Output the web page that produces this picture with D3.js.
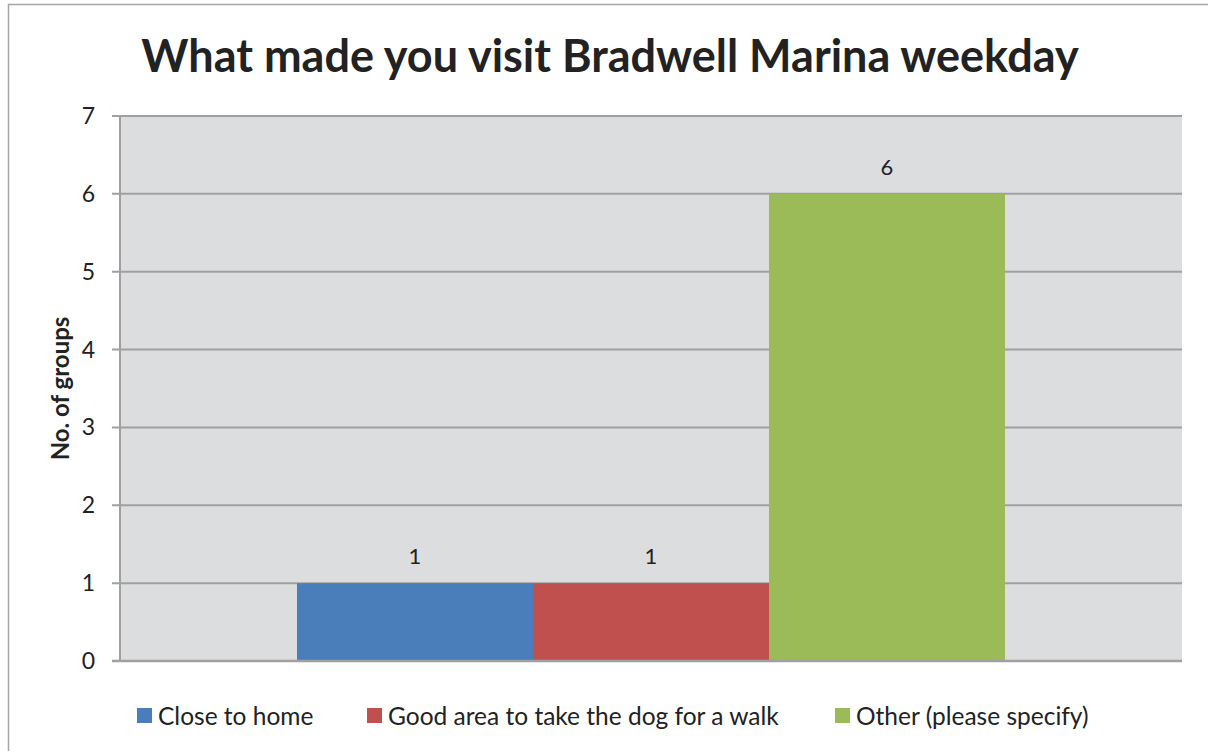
<!DOCTYPE html>
<html>
<head>
<meta charset="utf-8">
<script src="https://cdn.jsdelivr.net/npm/d3@7"></script>
<style>
  body { margin: 0; background: #fff; }
  text { font-family: Lato, "Open Sans", sans-serif; fill: #222; }
</style>
</head>
<body>
<div id="chart"></div>
<script>
var categories = ['weekday']
var series = ['Close to home', 'Good area to take the dog for a walk', 'Other (please specify)']
var values = [1, 1, 6]
var yTicks = [0, 1, 2, 3, 4, 5, 6, 7]
var colors = ['#4A7EBB', '#C0504D', '#9BBB59']

var margin = { top: 116, left: 120, right: 26, bottom: 90 }
var W = 1208
var H = 751
var width = W - margin.left - margin.right
var height = H - margin.top - margin.bottom

var svg = d3.select('#chart').append('svg')
  .attr('width', W)
  .attr('height', H)

// outer chart border (only left/top visible in frame)
svg.append('rect')
  .attr('x', 8.5).attr('y', 4.5)
  .attr('width', W + 20).attr('height', H + 20)
  .attr('fill', 'none').attr('stroke', '#a6a6a6').attr('stroke-width', 1.5)

svg.append('text')
  .attr('x', 610).attr('y', 72)
  .attr('text-anchor', 'middle')
  .attr('font-size', 45).attr('font-weight', 'bold')
  .text('What made you visit Bradwell Marina weekday')

var g = svg.append('g').attr('transform', `translate(${margin.left},${margin.top})`)

var y = d3.scaleLinear().domain([0, 7]).range([height, 0])
var x0 = d3.scaleBand().domain(categories).range([0, width]).padding(0.2)
var x1 = d3.scaleBand().domain(series).range([0, x0.bandwidth()])

g.append('rect')
  .attr('width', width).attr('height', height)
  .attr('fill', '#DCDDDF')

// gridlines
g.selectAll('.grid')
  .data(yTicks.filter(d => d > 0))
  .enter().append('line')
  .attr('x1', -8).attr('x2', width)
  .attr('y1', d => y(d)).attr('y2', d => y(d))
  .attr('stroke', '#A0A0A0').attr('stroke-width', 2)

var bars = g.selectAll('.bar')
  .data(series)
  .enter().append('g')
  .attr('transform', `translate(${x0(categories[0])},0)`)

bars.append('rect')
  .attr('x', d => x1(d))
  .attr('y', (d, i) => y(values[i]))
  .attr('width', x1.bandwidth())
  .attr('height', (d, i) => height - y(values[i]))
  .attr('fill', (d, i) => colors[i])

bars.append('text')
  .attr('x', d => x1(d) + x1.bandwidth() / 2)
  .attr('y', (d, i) => y(values[i]) - 19)
  .attr('text-anchor', 'middle')
  .attr('font-size', 22)
  .text((d, i) => values[i])

// axes lines
g.append('line')
  .attr('x1', 0).attr('x2', 0).attr('y1', 0).attr('y2', height)
  .attr('stroke', '#A0A0A0').attr('stroke-width', 2)
g.append('line')
  .attr('x1', -8).attr('x2', width).attr('y1', height).attr('y2', height)
  .attr('stroke', '#A0A0A0').attr('stroke-width', 2.5)

g.selectAll('.tick-label')
  .data(yTicks)
  .enter().append('text')
  .attr('x', -25).attr('y', d => y(d))
  .attr('dy', '0.35em')
  .attr('text-anchor', 'end')
  .attr('font-size', 23)
  .text(d => d)

svg.append('text')
  .attr('transform', `translate(69,${margin.top + height / 2}) rotate(-90)`)
  .attr('text-anchor', 'middle')
  .attr('font-size', 24).attr('font-weight', 'bold')
  .text('No. of groups')

// legend
var legendX = [137, 367, 835]
var legend = svg.selectAll('.legend')
  .data(series)
  .enter().append('g')
  .attr('transform', (d, i) => `translate(${legendX[i]},708)`)
legend.append('rect')
  .attr('width', 15).attr('height', 15)
  .attr('fill', (d, i) => colors[i])
legend.append('text')
  .attr('x', 21).attr('y', 8)
  .attr('dy', '0.35em')
  .attr('font-size', 24.5)
  .text(d => d)
</script>
</body>
</html>
